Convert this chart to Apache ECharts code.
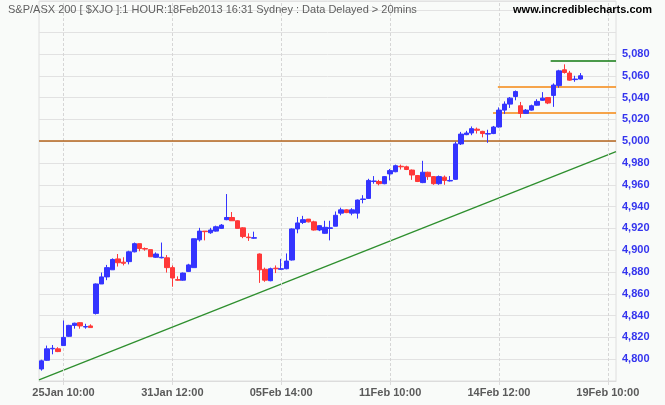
<!DOCTYPE html>
<html><head><meta charset="utf-8">
<script src="https://cdn.jsdelivr.net/npm/echarts@6/dist/echarts.min.js"></script>
<style>html,body{margin:0;padding:0;background:#f9fbf9}#c{width:665px;height:405px}</style>
</head><body><div id="c"></div>
<script>
// ---- data ----
const tradingDays = ['24Jan','25Jan','29Jan','30Jan','31Jan','01Feb','04Feb','05Feb','06Feb','07Feb','08Feb','11Feb','12Feb','13Feb','14Feb','15Feb','18Feb'];
const sessionHours = ['10:00','11:00','12:00','13:00','14:00','15:00'];
const futureSlots = ['f1','f2','f3','f4','19Feb 10:00','f6'];
const shownLabels = ['25Jan 10:00','31Jan 12:00','05Feb 14:00','11Feb 10:00','14Feb 12:00','19Feb 10:00'];

const opens  = [4791,4799,4809.5,4809.5,4812.5,4821,4831,4833.5,4829.5,4830.5,
  4842,4869,4875.5,4882,4892,4889,4889.5,4898.5,4906,4901.5,
  4900.5,4893.5,4893,4893,4884,4873,4872.5,4880.5,4884,4909.5,
  4917.5,4916,4917.5,4920,4928,4930,4927,4920.5,4912,4911,
  4896.5,4882.5,4872,4883.5,4882.5,4883,4891,4919.5,4925.5,4928.5,
  4926,4918.5,4915.5,4920,4922,4934,4937,4934,4934,4946.5,
  4947.5,4963,4963,4961,4970,4972,4977,4976.5,4973.5,4968.5,
  4962,4971.5,4967.5,4961,4967,4963.5,4965,4997.5,5006,5007.5,
  5011,5009,5006.5,5007,5013,5028.5,5034,5041,5032.5,5025.5,
  5028.5,5033,5037.5,5040,5042,5051,5065.5,5062.5,5056.5,5057];
const closes = [4798.5,4809.5,4810,4807,4820,4831,4833,4830.5,4830,4829,
  4869,4875.5,4884,4891.5,4888.5,4888,4898.5,4906,4901.5,4901,
  4894,4896.5,4893.5,4884,4874.5,4872.5,4879,4886.5,4910.5,4917.5,
  4917,4918.5,4921.5,4923,4930,4927,4920,4912.5,4911.5,4911.5,
  4882,4872.5,4883,4883,4883,4890,4919.5,4925,4928,4926,
  4918.5,4922.5,4921,4920.5,4932,4937,4934.5,4937,4946,4947,
  4964,4963.5,4961,4967.5,4973,4977.5,4976.5,4974,4969,4963,
  4971.5,4967.5,4961,4967.5,4964,4964,4997.5,5006.5,5007.5,5011.5,
  5010,5007,5007,5013,5028.5,5034,5039.5,5045.5,5025.5,5028.5,
  5032.5,5036.5,5039.5,5035,5051.5,5064.5,5063,5056,5057,5060];
const lows   = [4789.5,4798.5,4804.5,4806.5,4812.5,4820.5,4828,4828,4828,4829,
  4841,4869,4872.5,4882,4885,4886,4887,4898,4899,4899.5,
  4894,4893,4892.5,4879.5,4866.5,4872,4872,4880,4884,4908,
  4909,4915,4917,4919.5,4927.5,4927,4920,4911,4908.5,4910.5,
  4870,4871,4871.5,4879,4882,4882.5,4890.5,4915.5,4924,4925.5,
  4918,4917.5,4915,4909,4922,4932,4934,4932,4929,4943,
  4947,4961,4959.5,4960.5,4964,4971.5,4974,4973.5,4964.5,4962.5,
  4961.5,4964.5,4960,4960,4960,4963,4964.5,4996.5,5005.5,5005.5,
  5007,5003.5,4998.5,5006.5,5012.5,5025,5030.5,5037.5,5021.5,5025,
  5028,5032.5,5037,5034,5031.5,5049,5062,5055.5,5054.5,5056.5];
const highs  = [4799.5,4812.5,4813,4811,4835.5,4831.5,4833.5,4834,4832.5,4832,
  4869.5,4879.5,4886.5,4892.5,4896.5,4893.5,4899.5,4907,4906,4902.5,
  4900.5,4898,4907,4895.5,4886,4876,4879.5,4887.5,4910.5,4920.5,
  4917.5,4920.5,4922.5,4924,4951.5,4935,4927.5,4921,4915.5,4917,
  4897,4884,4884,4886,4892,4897,4920,4930.5,4931.5,4928.5,
  4927,4923,4927,4927,4935.5,4939,4937.5,4938.5,4946.5,4950.5,
  4965.5,4968,4964.5,4968,4974.5,4978.5,4978.5,4977.5,4974,4969,
  4982,4972,4968,4968.5,4968.5,4968,4999.5,5008.5,5009.5,5013.5,
  5012.5,5009.5,5010.5,5014,5031,5036.5,5040.5,5046.5,5036,5029.5,
  5033.5,5038.5,5045,5040.5,5053,5065.5,5070.5,5064.5,5060,5062.5];

const trendLine = [[0, 4781], [106, 4990.5]];
const keyLevel = 5000;
const orangeLevels = [[84.3, 5050], [83.4, 5026]];
const greenLevel = [94, 5074];

// ---- build ----
const categories = [];
tradingDays.forEach(d => sessionHours.forEach(h => categories.push(d + ' ' + h)));
categories.splice(0, 2);
futureSlots.forEach(s => categories.push(s));
const candles = opens.map((o, i) => [o, closes[i], lows[i], highs[i]]);

function fmt(v) { const s = String(Math.round(v)); return s.slice(0, s.length - 3) + ',' + s.slice(-3); }

const chart = echarts.init(document.getElementById('c'), null, {renderer: 'canvas'});
chart.setOption({
  animation: false,
  backgroundColor: '#f9fbf9',
  textStyle: {fontFamily: 'Liberation Sans'},
  grid: {left: 39, right: 49, top: 1, bottom: 24, show: true, borderColor: '#dedede', borderWidth: 1, backgroundColor: '#f9fbf9'},
  graphic: [
    {type: 'text', left: 8, top: 4, z: 10, style: {text: 'S&P/ASX 200 [ $XJO ]:1 HOUR:18Feb2013 16:31 Sydney : Data Delayed > 20mins', font: '11px "Liberation Sans"', fill: '#606060'}},
    {type: 'text', right: 13, top: 4, z: 10, style: {text: 'www.incrediblecharts.com', font: 'bold 11px "Liberation Sans"', fill: '#000'}}
  ],
  xAxis: [
    {type: 'category', data: categories, boundaryGap: true,
     axisLine: {show: true, lineStyle: {color: '#dcdcdc'}},
     axisTick: {show: true, alignWithLabel: true, length: 4, interval: (i, v) => shownLabels.includes(v), lineStyle: {color: '#dcdcdc'}},
     axisLabel: {interval: (i, v) => shownLabels.includes(v), color: '#5a5a5a', fontWeight: 'bold', fontSize: 11, margin: 6, fontFamily: 'Liberation Sans'},
     splitLine: {show: false}},
    {type: 'value', min: 0, max: 106, show: false, splitLine: {show: false}}
  ],
  yAxis: {type: 'value', position: 'right', min: 4780, max: 5128.6, interval: 20, scale: true,
    axisLine: {show: false}, axisTick: {show: false},
    axisLabel: {margin: 6, color: '#3434ee', fontWeight: 'bold', fontSize: 11, fontFamily: 'Liberation Sans',
      formatter: v => (v >= 4800 && v <= 5080 && v % 20 === 0) ? fmt(v) : ''},
    splitLine: {show: true, lineStyle: {color: '#e2e2e2', width: 1}}},
  series: [
    {type: 'line', xAxisIndex: 0, data: [], z: 0, silent: true,
     markLine: {silent: true, symbol: 'none', label: {show: false}, animation: false,
       lineStyle: {type: [3, 2], color: '#d6d6d6', width: 1},
       data: shownLabels.map(l => ({xAxis: l}))}},
    {type: 'line', xAxisIndex: 1, data: trendLine, symbol: 'none', z: 1, silent: true,
     lineStyle: {color: '#2e8f2e', width: 1.3},
     markLine: {silent: true, symbol: 'none', label: {show: false}, animation: false,
       data: [
         {yAxis: keyLevel, lineStyle: {color: '#b5651d', width: 1.5, type: 'solid'}},
         [{coord: orangeLevels[0], lineStyle: {color: '#f5870f', width: 1.5, type: 'solid'}}, {coord: [106, orangeLevels[0][1]]}],
         [{coord: orangeLevels[1], lineStyle: {color: '#f5870f', width: 1.5, type: 'solid'}}, {coord: [106, orangeLevels[1][1]]}],
         [{coord: greenLevel, lineStyle: {color: '#107a10', width: 1.5, type: 'solid'}}, {coord: [106, greenLevel[1]]}]
       ]}},
    {type: 'candlestick', xAxisIndex: 0, data: candles, z: 5, barWidth: 5,
     itemStyle: {color: '#3434ff', color0: '#ff3838', borderColor: '#3434ff', borderColor0: '#ff3838', borderWidth: 1}}
  ]
});
</script></body></html>
